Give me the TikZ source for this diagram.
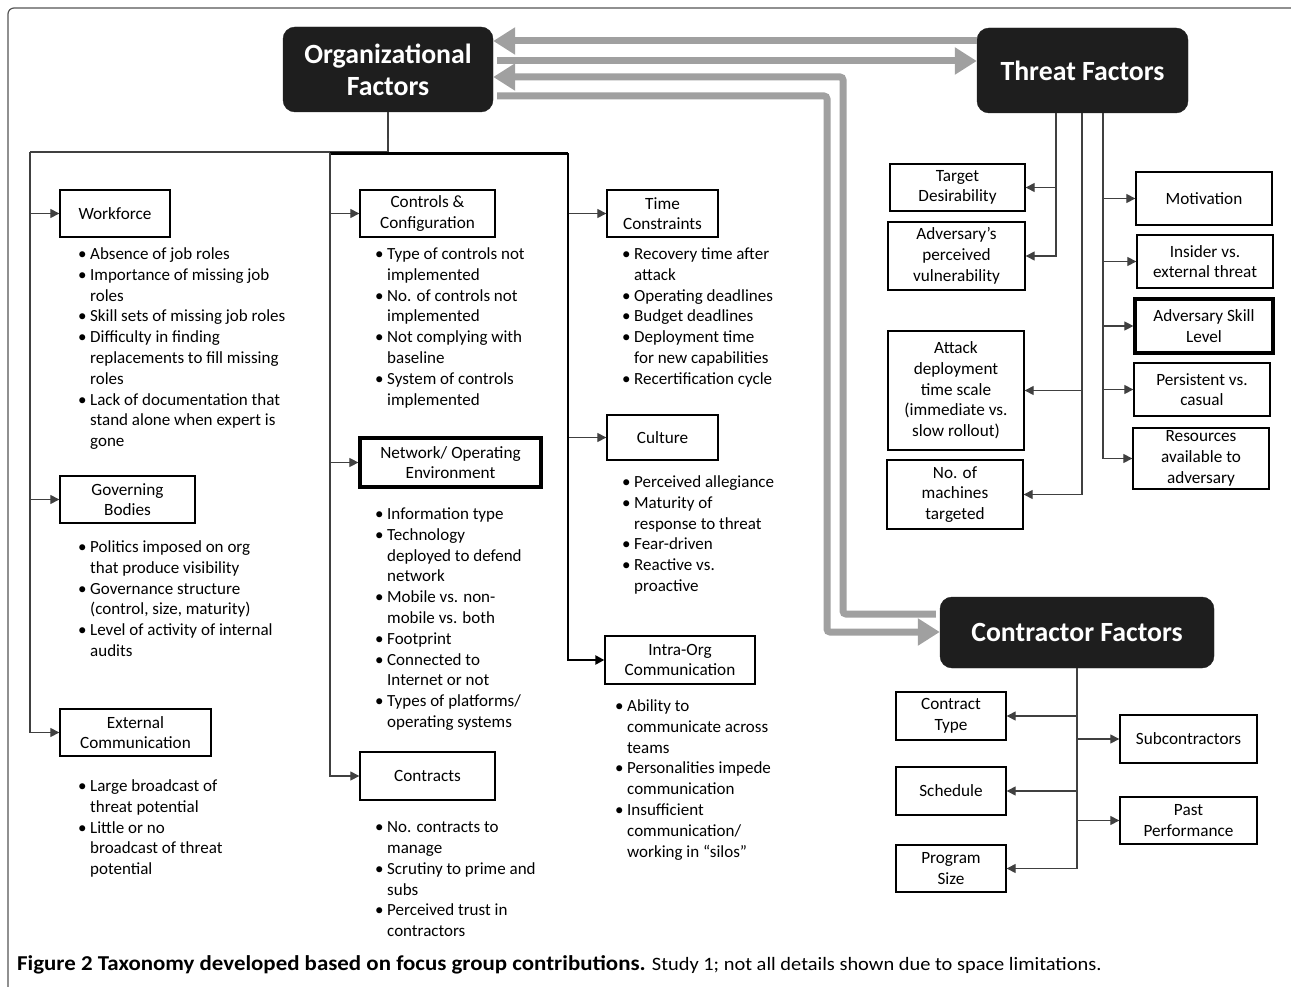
\documentclass[tikz,border=0pt]{standalone}
\usepackage{fontspec}
\setmainfont{Carlito}
\newfontfamily\capfont[FakeStretch=1.08]{Carlito}
\usetikzlibrary{arrows.meta}
\definecolor{hdr}{HTML}{1E1E1E}
\definecolor{garr}{HTML}{A0A0A0}
\definecolor{lnk}{HTML}{404040}
\definecolor{frm}{HTML}{555555}
\newcommand{\bl}{\makebox[12pt][l]{\textbullet}}
\newcommand{\ind}{\hspace*{12pt}}
\begin{document}
\begin{tikzpicture}[x=1pt,y=-1pt,
  hdrbox/.style={fill=hdr, draw=hdr, rounded corners=12pt, text=white, font=\fontsize{27.8}{32}\selectfont\bfseries, align=center, inner sep=0},
  fbox/.style={draw=black, line width=1.3pt, align=center, inner sep=0, font=\fontsize{17.2}{20.7}\selectfont},
  tbox/.style={fbox, line width=3.2pt},
  blist/.style={align=left, inner sep=0, anchor=north west, font=\fontsize{17}{20.8}\selectfont},
  conn/.style={draw=lnk, line width=1.1pt, -{Triangle[length=9pt,width=9pt]}},
  tconn/.style={draw=black, line width=2.2pt, -{Triangle[length=9pt,width=9pt]}},
  garrow/.style={draw=garr, line width=7pt, rounded corners=3pt, -{Triangle[length=22pt,width=26pt]}}
]
\useasboundingbox (0,0) rectangle (1291,987);
\draw[line width=1.2pt, draw=frm, rounded corners=6pt] (8,8) rectangle (1320,1020);

% header boxes
\node[hdrbox, minimum width=210pt, minimum height=85pt] (org) at (388,69.5) {Organizational\\Factors};
\node[hdrbox, minimum width=211pt, minimum height=85pt] (thr) at (1082.5,70.5) {Threat Factors};
\node[hdrbox, minimum width=274pt, minimum height=71pt] (con) at (1077,632.5) {Contractor Factors};

% gray arrows
\draw[garrow] (thr.west |- 0,41) -- (org.east |- 0,41);
\draw[garrow] ([xshift=4pt]org.east |- 0,61) -- (thr.west |- 0,61);
\coordinate (g3) at (843,614);
\coordinate (g4) at (827,632);
\draw[garrow] ([xshift=-4pt]con.west |- g3) -- (g3) -- (g3 |- 0,77) -- (org.east |- 0,77);
\draw[garrow] ([xshift=4pt]org.east |- 0,96) -- (g4 |- 0,96) -- (g4) -- (con.west |- g4);

% organizational boxes
\node[fbox, minimum width=110pt, minimum height=47pt] (work) at (115,213.5) {Workforce};
\node[fbox, minimum width=135pt, minimum height=47pt] (ctrl) at (427.5,213.5) {Controls \&\\Configuration};
\node[fbox, minimum width=111pt, minimum height=47pt] (time) at (662.5,213.5) {Time\\Constraints};
\node[tbox, minimum width=181pt, minimum height=49pt] (net) at (450.5,462.5) {Network/ Operating\\Environment};
\node[fbox, minimum width=111pt, minimum height=45pt] (cult) at (662.5,437.5) {Culture};
\node[fbox, minimum width=135pt, minimum height=47pt] (gov) at (127.5,499.5) {Governing\\Bodies};
\node[fbox, minimum width=150pt, minimum height=48pt] (intra) at (680,660) {Intra-Org\\Communication};
\node[fbox, minimum width=151pt, minimum height=47pt] (ext) at (135.5,732.5) {External\\Communication};
\node[fbox, minimum width=135pt, minimum height=48pt] (contr) at (427.5,776) {Contracts};

% organizational tree
\coordinate (oj) at (388,152);
\coordinate (lj) at (30,152);
\coordinate (mj) at (330,153.5);
\coordinate (rj) at (568,153.5);
\draw[draw=lnk, line width=1.1pt] (org.south) -- (oj);
\draw[draw=lnk, line width=1.1pt] (lj) -- (oj);
\draw[draw=black, line width=2.2pt] (mj) -- (rj);
\draw[conn] (lj) |- (work.west);
\draw[conn] (lj) |- (gov.west);
\draw[conn] (lj) |- (ext.west);
\draw[conn] (mj) |- (ctrl.west);
\draw[conn] (mj) |- (net.west);
\draw[conn] (mj) |- (contr.west);
\draw[conn] (rj) |- (time.west);
\draw[conn] (rj) |- (cult.west);
\draw[tconn] (rj) |- (intra.west);

% bullet lists
\node[blist] (wlist) at (78,247.5) {\bl Absence of job roles\\\bl Importance of missing job\\\ind roles\\\bl Skill sets of missing job roles\\\bl Difficulty in finding\\\ind replacements to fill missing\\\ind roles\\\bl Lack of documentation that\\\ind stand alone when expert is\\\ind gone};
\node[blist] (glist) at (78,540.5) {\bl Politics imposed on org\\\ind that produce visibility\\\bl Governance structure\\\ind (control, size, maturity)\\\bl Level of activity of internal\\\ind audits};
\node[blist] (elist) at (78,779.5) {\bl Large broadcast of\\\ind threat potential\\\bl Little or no\\\ind broadcast of threat\\\ind potential};
\node[blist] (clist) at (375,247.5) {\bl Type of controls not\\\ind implemented\\\bl No. of controls not\\\ind implemented\\\bl Not complying with\\\ind baseline\\\bl System of controls\\\ind implemented};
\node[blist] (nlist) at (375,507.5) {\bl Information type\\\bl Technology\\\ind deployed to defend\\\ind network\\\bl Mobile vs. non-\\\ind mobile vs. both\\\bl Footprint\\\bl Connected to\\\ind Internet or not\\\bl Types of platforms/\\\ind operating systems};
\node[blist] (ctlist) at (375,821.5) {\bl No. contracts to\\\ind manage\\\bl Scrutiny to prime and\\\ind subs\\\bl Perceived trust in\\\ind contractors};
\node[blist] (tlist) at (622,247.5) {\bl Recovery time after\\\ind attack\\\bl Operating deadlines\\\bl Budget deadlines\\\bl Deployment time\\\ind for new capabilities\\\bl Recertification cycle};
\node[blist] (culist) at (622,475.5) {\bl Perceived allegiance\\\bl Maturity of\\\ind response to threat\\\bl Fear-driven\\\bl Reactive vs.\\\ind proactive};
\node[blist] (ilist) at (615,699.5) {\bl Ability to\\\ind communicate across\\\ind teams\\\bl Personalities impede\\\ind communication\\\bl Insufficient\\\ind communication/\\\ind working in “silos”};

% threat boxes
\node[fbox, minimum width=135pt, minimum height=47pt] (target) at (957.5,187.5) {Target\\Desirability};
\node[fbox, minimum width=137pt, minimum height=68pt] (advv) at (956.5,256) {Adversary’s\\perceived\\vulnerability};
\node[fbox, minimum width=136pt, minimum height=119pt] (attack) at (956,390.5) {Attack\\deployment\\time scale\\(immediate vs.\\slow rollout)};
\node[fbox, minimum width=136pt, minimum height=69pt] (mach) at (955,494.5) {No. of\\machines\\targeted};
\node[fbox, minimum width=136pt, minimum height=53pt] (motiv) at (1204,198.5) {Motivation};
\node[fbox, minimum width=136pt, minimum height=53pt] (insid) at (1205,261.5) {Insider vs.\\external threat};
\node[tbox, minimum width=138pt, minimum height=54pt] (skill) at (1204,326) {Adversary Skill\\Level};
\node[fbox, minimum width=136pt, minimum height=53pt] (pers) at (1202,389.5) {Persistent vs.\\casual};
\node[fbox, minimum width=136pt, minimum height=61pt] (resrc) at (1201,458.5) {Resources\\available to\\adversary};

\coordinate (t1) at (1056,113);
\coordinate (t2) at (1082,113);
\coordinate (t3) at (1103,113);
\draw[conn] (t1) |- (target.east);
\draw[conn] (t1) |- (advv.east);
\draw[conn] (t2) |- (attack.east);
\draw[conn] (t2) |- (mach.east);
\draw[conn] (t3) |- (motiv.west);
\draw[conn] (t3) |- (insid.west);
\draw[conn] (t3) |- (skill.west);
\draw[conn] (t3) |- (pers.west);
\draw[conn] (t3) |- (resrc.west);

% contractor boxes
\node[fbox, minimum width=110pt, minimum height=48pt] (ctype) at (951,716) {Contract\\Type};
\node[fbox, minimum width=137pt, minimum height=48pt] (subc) at (1188.5,739) {Subcontractors};
\node[fbox, minimum width=110pt, minimum height=48pt] (sched) at (951,791) {Schedule};
\node[fbox, minimum width=137pt, minimum height=47pt] (past) at (1188.5,820.5) {Past\\Performance};
\node[fbox, minimum width=110pt, minimum height=47pt] (psize) at (951,868.5) {Program\\Size};

\coordinate (c1) at (1077,668);
\draw[conn] (c1) |- (ctype.east);
\draw[conn] (c1) |- (subc.west);
\draw[conn] (c1) |- (sched.east);
\draw[conn] (c1) |- (past.west);
\draw[conn] (c1) |- (psize.east);

% caption
\node[anchor=base west, inner sep=0] (cap) at (17,970) {\capfont\fontsize{21.2}{24}\selectfont\bfseries Figure 2 Taxonomy developed based on focus group contributions.\fontsize{18.9}{24}\mdseries\selectfont{} Study 1; not all details shown due to space limitations.};
\end{tikzpicture}
\end{document}
